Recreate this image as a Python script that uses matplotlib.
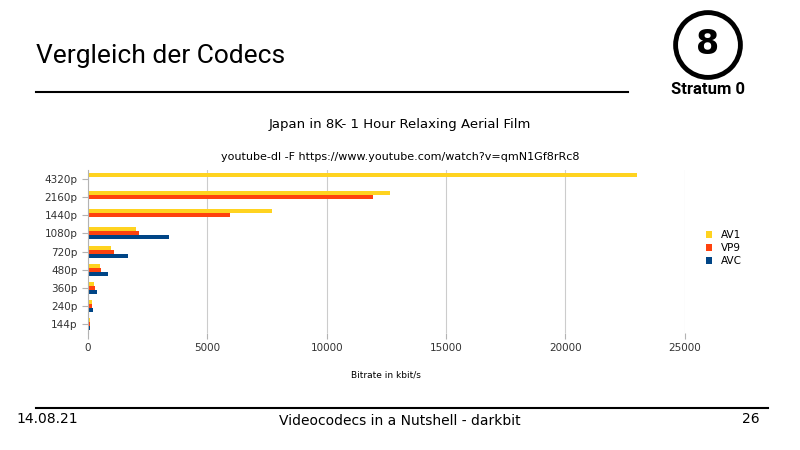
import matplotlib
matplotlib.use("Agg")
import matplotlib.pyplot as plt
import numpy as np
from matplotlib.patches import Circle

categories = ["144p", "240p", "360p", "480p", "720p", "1080p", "1440p", "2160p", "4320p"]
av1 = [80, 150, 250, 490, 980, 2010, 7700, 12650, 23000]
vp9 = [80, 160, 290, 545, 1090, 2120, 5950, 11930, 0]
avc = [70, 190, 390, 850, 1660, 3400, 0, 0, 0]
xticks = [0, 5000, 10000, 15000, 20000, 25000]

fig = plt.figure(figsize=(8, 4.5), dpi=100)
fig.patch.set_facecolor("white")

fig.text(0.045, 0.875, "Vergleich der Codecs", fontsize=19, family="Roboto", va="center")
fig.add_artist(plt.Line2D([0.045, 0.785], [0.795, 0.795], color="black", lw=1.5))
fig.add_artist(plt.Line2D([0.045, 0.96], [0.093, 0.093], color="black", lw=1.5))
fig.text(0.02, 0.068, "14.08.21", fontsize=10, va="center")
fig.text(0.5, 0.065, "Videocodecs in a Nutshell - darkbit", fontsize=10, ha="center", va="center")
fig.text(0.95, 0.068, "26", fontsize=10, ha="right", va="center")

lax = fig.add_axes([0.82, 0.78, 0.13, 0.2])
lax.set_xlim(0, 1); lax.set_ylim(0, 1); lax.set_aspect("equal"); lax.axis("off")
lax.add_patch(Circle((0.5, 0.6), 0.36, fill=False, lw=3.5, color="black"))
lax.text(0.5, 0.6, "8", fontsize=24, ha="center", va="center", fontweight="bold")
fig.text(0.885, 0.8, "Stratum 0", fontsize=12, fontweight="bold", ha="center", va="center",
         family="Roboto")

ax = fig.add_axes([0.11, 0.26, 0.746, 0.362])
y = np.arange(len(categories))
h = 0.22
ax.barh(y + h, av1, h, color="#ffd320", label="AV1")
ax.barh(y, vp9, h, color="#ff420e", label="VP9")
ax.barh(y - h, avc, h, color="#004586", label="AVC")
ax.set_yticks(y)
ax.set_yticklabels(categories, fontsize=7.5, color="#333333")
ax.set_ylim(-0.5, len(categories) - 0.5)
ax.set_xlim(0, 25000)
ax.set_xticks(xticks)
ax.set_xticklabels([str(t) for t in xticks], fontsize=7.5, color="#333333")
ax.grid(axis="x", color="#cccccc", lw=0.8)
ax.set_axisbelow(True)
for s in ["top", "right", "bottom"]:
    ax.spines[s].set_visible(False)
ax.spines["left"].set_color("#b3b3b3")
ax.tick_params(length=4, color="#b3b3b3")
ax.set_xlabel("Bitrate in kbit/s", fontsize=6.5, labelpad=12)
fig.text(0.5, 0.715, "Japan in 8K- 1 Hour Relaxing Aerial Film", fontsize=9.5, ha="center")
fig.text(0.5, 0.645, "youtube-dl -F https://www.youtube.com/watch?v=qmN1Gf8rRc8", fontsize=8, ha="center")
ax.legend(loc="center left", bbox_to_anchor=(1.02, 0.52), frameon=False, fontsize=7.5,
          handlelength=0.6, handleheight=0.6, labelspacing=0.3)

fig.savefig("out.png", dpi=100)
